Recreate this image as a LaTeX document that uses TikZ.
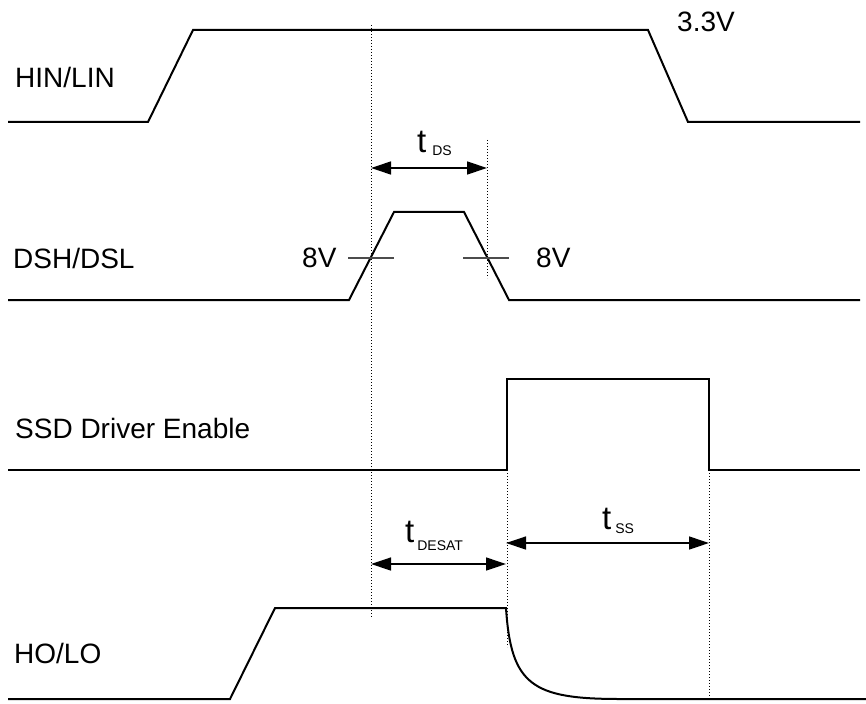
\documentclass[tikz,border=0pt]{standalone}
\usepackage{fontspec}
\setmainfont{Liberation Sans}
\usetikzlibrary{arrows.meta}
\begin{document}
\begin{tikzpicture}[x=1pt,y=-1pt,
  wave/.style={line width=2pt,line join=miter},
  guide/.style={dotted,line width=1pt},
  tick/.style={line width=1.3pt,black!70},
  dim/.style={line width=1.3pt,{Triangle[length=20pt,width=13pt]}-{Triangle[length=20pt,width=13pt]}},
  lbl/.style={anchor=base west,inner sep=0pt,font=\fontsize{28}{32}\selectfont},
  tlbl/.style={anchor=base west,inner sep=0pt,font=\fontsize{33}{36}\selectfont}]
\useasboundingbox (0,0) rectangle (866,703);
% waveforms
\draw[wave] (8,122) -- (148,122) -- (193,30) -- (648,30) -- (688,122) -- (860,122);
\draw[wave] (8,300) -- (349,300) -- (394,212) -- (464,212) -- (509,300) -- (860,300);
\draw[wave] (8,470) -- (507,470) -- (507,379) -- (709,379) -- (709,470) -- (860,470);
\draw[wave] (8,699) -- (230,699) -- (275,608) -- (506,608)
  .. controls (511,685) and (532,699) .. (620,699) -- (866,699);
% guide lines
\draw[guide] (371,25) -- (371,618);
\draw[guide] (487,140) -- (487,278);
\draw[guide] (507,470) -- (507,647);
\draw[guide] (709,470) -- (709,698);
% 8V ticks
\draw[tick] (348,258) -- (394,258);
\draw[tick] (463,258) -- (509,258);
% dimension arrows
\coordinate (dsA) at (371,168);
\coordinate (dsB) at (487,168);
\coordinate (deA) at (371,564);
\coordinate (deB) at (506,564);
\coordinate (ssA) at (506,543);
\coordinate (ssB) at (709,543);
\draw[dim] (dsA) -- (dsB);
\draw[dim] (deA) -- (deB);
\draw[dim] (ssA) -- (ssB);
% labels
\node[lbl] (hin) at (15,88) {HIN/LIN};
\node[lbl] (dsh) at (13,268) {DSH/DSL};
\node[lbl] (ssd) at (15,438) {SSD Driver Enable};
\node[lbl] (ho) at (14,663) {HO/LO};
\node[lbl] (v33) at (677,32) {3.3V};
\node[lbl] (v8a) at (302,267) {8V};
\node[lbl] (v8b) at (536,267) {8V};
\node[tlbl] (tds) at (417,153) {t\hspace{6pt}\raisebox{-3pt}{\fontsize{14}{16}\selectfont DS}};
\node[tlbl] (tdesat) at (405,542) {t\hspace{3pt}\raisebox{-8pt}{\fontsize{14}{16}\selectfont DESAT}};
\node[tlbl] (tss) at (602,529) {t\hspace{4pt}\raisebox{-4pt}{\fontsize{14}{16}\selectfont SS}};
\end{tikzpicture}
\end{document}
